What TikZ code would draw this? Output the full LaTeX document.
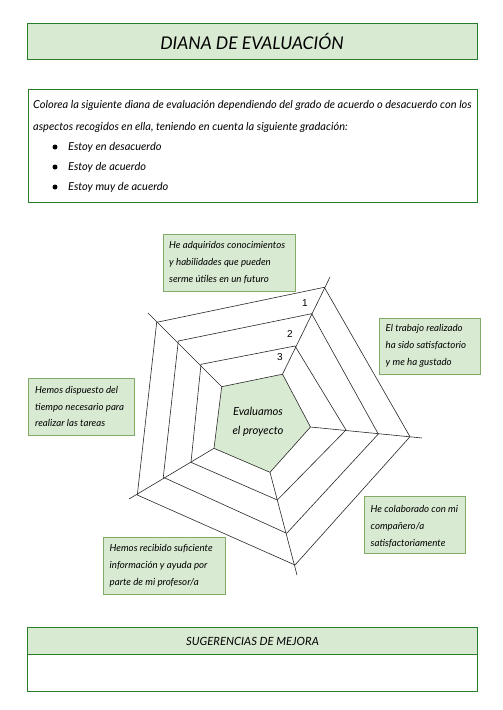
\documentclass[tikz,border=0pt]{standalone}
\usepackage{fontspec}
\setmainfont{Lato}
\newfontfamily\numfont{Liberation Sans}
\definecolor{gfill}{RGB}{217,234,211}
\definecolor{gborder}{RGB}{40,125,40}
\definecolor{lborder}{RGB}{130,170,105}
\definecolor{webline}{RGB}{40,40,40}
\tikzset{
  hbox/.style={draw=gborder, line width=1pt, fill=gfill, inner sep=0pt},
  wbox/.style={draw=gborder, line width=1pt, fill=white, inner sep=0pt},
  lbox/.style={draw=lborder, line width=0.8pt, fill=gfill, inner sep=0pt, anchor=north west},
  ltext/.style={anchor=west, align=left, inner sep=0pt, font=\fontsize{9.7}{16.8}\selectfont\itshape},
  dtext/.style={anchor=west, inner sep=0pt, font=\fontsize{11}{13}\selectfont\itshape},
  web/.style={draw=webline, line width=0.6pt, line join=miter},
  num/.style={inner sep=0pt, font=\fontsize{10}{12}\selectfont\numfont},
  dot/.style={circle, fill=black, inner sep=0pt, minimum size=5pt}
}
\begin{document}
\begin{tikzpicture}[x=1pt,y=-1pt]
\useasboundingbox (0,0) rectangle (503,710);
\fill[white] (0,0) rectangle (503,710);

% title
\node[hbox, minimum width=450pt, minimum height=36pt, font=\fontsize{17.5}{19}\selectfont\itshape] (title) at (252,41) {DIANA DE EVALUACIÓN};

% description
\node[wbox, minimum width=449.5pt, minimum height=112.5pt, anchor=north west] (desc) at (27.5,89) {};
\node[dtext] (d1) at (33,105) {Colorea la siguiente diana de evaluación dependiendo del grado de acuerdo o desacuerdo con los};
\node[dtext] (d2) at (33,127) {aspectos recogidos en ella, teniendo en cuenta la siguiente gradación:};
\node[dot] (b1) at (55,147) {};
\node[dot] (b2) at (55,167) {};
\node[dot] (b3) at (55,187) {};
\node[dtext] (i1) at (68,147) {Estoy en desacuerdo};
\node[dtext] (i2) at (68,167) {Estoy de acuerdo};
\node[dtext] (i3) at (68,187) {Estoy muy de acuerdo};

% web coordinates
\coordinate (a1) at (282.5,374.2); \coordinate (a2) at (310.5,427); \coordinate (a3) at (270,472.3); \coordinate (a4) at (214,448.3); \coordinate (a5) at (221.7,386.7);
\coordinate (b1c) at (295,346); \coordinate (b2c) at (346,430); \coordinate (b3c) at (277.3,500); \coordinate (b4c) at (191,462.3); \coordinate (b5c) at (201,364.3);
\coordinate (c1) at (311.7,313.7); \coordinate (c2) at (378.3,434); \coordinate (c3) at (286.7,533.3); \coordinate (c4) at (163.3,477.3); \coordinate (c5) at (178.3,341);
\coordinate (d1c) at (324.3,287.3); \coordinate (d2c) at (410,436.7); \coordinate (d3c) at (295,565); \coordinate (d4c) at (137.3,495); \coordinate (d5c) at (156.7,322.3);
\coordinate (e1) at (330,277); \coordinate (e2) at (422,438); \coordinate (e3) at (297,575); \coordinate (e4) at (129,499); \coordinate (e5) at (148,313);

\filldraw[web, fill=gfill] (a1) -- (a2) -- (a3) -- (a4) -- (a5) -- cycle;
\draw[web] (b1c) -- (b2c) -- (b3c) -- (b4c) -- (b5c) -- cycle;
\draw[web] (c1) -- (c2) -- (c3) -- (c4) -- (c5) -- cycle;
\draw[web] (d1c) -- (d2c) -- (d3c) -- (d4c) -- (d5c) -- cycle;
\foreach \i in {1,...,5} { \draw[web] (a\i) -- (e\i); }

\node[num] (n1) at (305,303) {1};
\node[num] (n2) at (290,334) {2};
\node[num] (n3) at (280,357) {3};

\node[align=center, inner sep=0pt, font=\fontsize{11.2}{19}\selectfont\itshape] (center) at (258,422) {Evaluamos\\el proyecto};

% label boxes
\node[lbox, minimum width=132pt, minimum height=56.5pt] (L1) at (162.5,234) {};
\node[ltext] (T1) at (169,262.5) {He adquiridos conocimientos\\y habilidades que pueden\\serme útiles en un futuro};

\node[lbox, minimum width=100.5pt, minimum height=56.5pt] (L2) at (379,317.5) {};
\node[ltext] (T2) at (385.5,346) {El trabajo realizado\\ha sido satisfactorio\\y me ha gustado};

\node[lbox, minimum width=106pt, minimum height=57.5pt] (L3) at (27.5,377.5) {};
\node[ltext] (T3) at (35,406.5) {Hemos dispuesto del\\tiempo necesario para\\realizar las tareas};

\node[lbox, minimum width=101pt, minimum height=57pt] (L4) at (363.5,496) {};
\node[ltext] (T4) at (370.5,526.5) {He colaborado con mi\\compañero/a\\satisfactoriamente};

\node[lbox, minimum width=122pt, minimum height=57pt] (L5) at (103,537) {};
\node[ltext] (T5) at (109.5,566) {Hemos recibido suficiente\\información y ayuda por\\parte de mi profesor/a};

% suggestions
\node[wbox, minimum width=450pt, minimum height=64pt, anchor=north west] (sug) at (27,627) {};
\node[hbox, minimum width=450pt, minimum height=27pt, anchor=north west, font=\fontsize{11.3}{13}\selectfont\itshape] (sugh) at (27,627) {SUGERENCIAS DE MEJORA};
\end{tikzpicture}
\end{document}
